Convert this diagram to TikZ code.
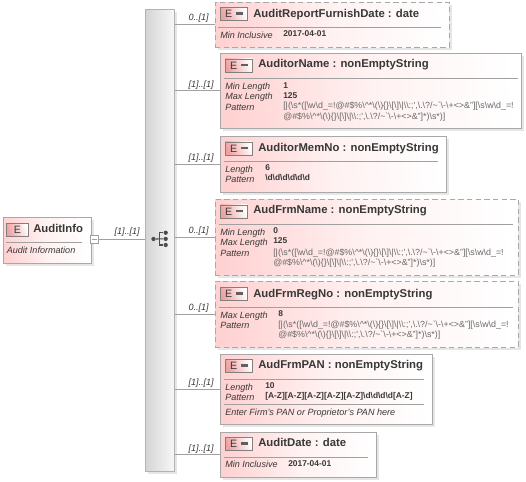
\documentclass[tikz,border=0pt]{standalone}
\usepackage{fontspec}
\setmainfont{Liberation Sans}
\usetikzlibrary{shadows}
\definecolor{boxedge}{HTML}{A8A8A8}
\definecolor{shadowc}{HTML}{E6E6E6}
\definecolor{pinkfill}{HTML}{FFD2D2}
\definecolor{iconpink}{HTML}{F0A0A0}
\definecolor{txt}{HTML}{383838}
\definecolor{pattxt}{HTML}{686868}
\definecolor{linec}{HTML}{A0A0A0}
\newcommand{\bs}{\textbackslash}
\newcommand{\patA}{[|(\bs s*([\bs w\bs d\_=!@\#\$\%\bs\^{}*\bs(\bs)\{\}\bs[\bs]\bs|\bs\bs:;\textquotesingle,\bs.\bs?/\textasciitilde\textasciigrave\bs-\bs+<>\&"][\bs s\bs w\bs d\_=!}
\newcommand{\patB}{@\#\$\%\bs\^{}*\bs(\bs)\{\}\bs[\bs]\bs|\bs\bs:;\textquotesingle,\bs.\bs?/\textasciitilde\textasciigrave\bs-\bs+<>\&"]*)\bs s*)]}
\newcommand{\emark}{E\hspace{3pt}\textcolor{txt!80}{\rule[2.2pt]{5pt}{1.7pt}}}
\tikzset{
  elembox/.style={rectangle,anchor=north west,draw=boxedge,line width=0.75pt,inner sep=0pt,
    top color=pinkfill,bottom color=white,middle color=pinkfill!30,shading angle=94,
    general shadow={shadow xshift=2.2pt,shadow yshift=-2.2pt,fill=shadowc}},
  optbox/.style={elembox,dashed,dash pattern=on 4pt off 2.5pt},
  eicon/.style={rectangle,anchor=north west,draw=black!50,line width=0.6pt,inner sep=0pt,
    minimum width=27*0.75pt,minimum height=13*0.75pt,font=\fontsize{8pt}{8pt}\selectfont,text=txt,
    top color=iconpink,bottom color=white,shading angle=110},
  titletext/.style={anchor=base west,inner sep=0pt,font=\fontsize{8.5pt}{9pt}\selectfont\bfseries,text=txt},
  lbl/.style={anchor=base west,inner sep=0pt,font=\fontsize{6.8pt}{8pt}\selectfont\itshape,text=txt},
  val/.style={anchor=base west,inner sep=0pt,font=\fontsize{6.3pt}{7pt}\selectfont\bfseries,text=txt},
  pat/.style={anchor=base west,inner sep=0pt,font=\fontsize{6.65pt}{7pt}\selectfont,text=pattxt},
  card/.style={anchor=base east,inner sep=0pt,font=\fontsize{6.8pt}{8pt}\selectfont\itshape,text=txt},
  sepline/.style={draw=linec,line width=0.7pt},
  conn/.style={draw=linec,line width=0.7pt},
  dot/.style={circle,fill=black!70,inner sep=0pt,minimum size=3.2pt},
  iconline/.style={draw=black!70,line width=0.8pt},
  collapse/.style={rectangle,draw=linec,fill=white,line width=0.6pt,inner sep=0pt,minimum width=6pt,minimum height=6pt},
  barbox/.style={rectangle,anchor=north west,draw=black!30,line width=0.8pt,inner sep=0pt,
    left color=black!17,right color=black!3,
    general shadow={shadow xshift=2.2pt,shadow yshift=-2.2pt,fill=shadowc}}
}
\newcommand{\elem}[6]{% id, style, x, y, w, h
  \node[#2,minimum width=#5*0.75pt,minimum height=#6*0.75pt] (#1) at (#3,#4) {};
}
\begin{document}
\begin{tikzpicture}[x=0.75pt,y=-0.75pt]
\useasboundingbox (0,0) rectangle (526,482);

% sequence bar
\node[barbox,minimum width=29*0.75pt,minimum height=462*0.75pt] (bar) at (144.5,8.5) {};
\node[dot] (d0) at (153.5,239) {};
\node[dot] (d1) at (165.7,232.7) {};
\node[dot] (d2) at (165.7,238.9) {};
\node[dot] (d3) at (165.7,245) {};
\coordinate (fork) at (159.3,239);
\draw[iconline] (d0) -- (d2);
\draw[iconline] (d1) -| (fork |- d3) -- (d3);

% root element
\elem{root}{elembox}{2.5}{216.5}{88}{46}
\node[eicon,minimum width=22*0.75pt] (rooticon) at (6,223) {E};
\node[titletext] (roott) at (33,232) {AuditInfo};
\draw[sepline] (6,242.5) -- (82,242.5);
\node[lbl] (rootd) at (6.5,253) {Audit Information};
\node[collapse] (rootc) at (94.5,239) {};
\draw[draw=linec,line width=0.6pt] (92.3,239) -- (96.7,239);
\draw[conn] (rootc) -- (bar.west |- rootc);
\node[card] (rootm) at (140,234) {[1]..[1]};

% AuditReportFurnishDate
\elem{a}{optbox}{214.5}{1.5}{234}{45}
\node[eicon] (ai) at (220,7) {\emark};
\node[titletext] (at) at (253,17) {AuditReportFurnishDate : date};
\draw[sepline] (218,27.5) -- (441,27.5);
\node[lbl] (al) at (220,38) {Min Inclusive};
\node[val] (av) at (283,36.5) {2017-04-01};
\draw[conn] (bar.east |- a.west) -- (a.west);
\node[card] (am) at (209,20) {0..[1]};

% AuditorName
\elem{b}{elembox}{219.5}{52.5}{301}{75}
\node[eicon] (bi) at (225,58.5) {\emark};
\node[titletext] (bt) at (258,67) {AuditorName : nonEmptyString};
\draw[sepline] (224,78.5) -- (518,78.5);
\node[lbl] (bl1) at (225,89) {Min Length};
\node[val] (bv1) at (283,88) {1};
\node[lbl] (bl2) at (225,99) {Max Length};
\node[val] (bv2) at (283,98) {125};
\node[lbl] (bl3) at (225,110) {Pattern};
\node[pat] (bp1) at (283,108.5) {\patA};
\node[pat] (bp2) at (283,119.5) {\patB};
\draw[conn] (bar.east |- b.west) -- (b.west);
\node[card] (bm) at (214,87) {[1]..[1]};

% AuditorMemNo
\elem{c}{elembox}{219.5}{135.5}{226}{56}
\node[eicon] (ci) at (225,141.5) {\emark};
\node[titletext] (ct) at (258,151) {AuditorMemNo : nonEmptyString};
\draw[sepline] (224,161.5) -- (438,161.5);
\node[lbl] (cl1) at (225,172) {Length};
\node[val] (cv1) at (265,170.5) {6};
\node[lbl] (cl2) at (225,182) {Pattern};
\node[val] (cv2) at (265,180.5) {\bs d\bs d\bs d\bs d\bs d\bs d};
\draw[conn] (bar.east |- c.west) -- (c.west);
\node[card] (cm) at (214,160) {[1]..[1]};

% AudFrmName
\elem{d}{optbox}{214.5}{198.5}{303}{76}
\node[eicon] (di) at (220,204.5) {\emark};
\node[titletext] (dt) at (253,213) {AudFrmName : nonEmptyString};
\draw[sepline] (219,224.5) -- (513,224.5);
\node[lbl] (dl1) at (220,235) {Min Length};
\node[val] (dv1) at (273,233.5) {0};
\node[lbl] (dl2) at (220,245) {Max Length};
\node[val] (dv2) at (273,243.5) {125};
\node[lbl] (dl3) at (220,256) {Pattern};
\node[pat] (dp1) at (273,255) {\patA};
\node[pat] (dp2) at (273,265.5) {\patB};
\draw[conn] (bar.east |- d.west) -- (d.west);
\node[card] (dm) at (209,233) {0..[1]};

% AudFrmRegNo
\elem{e}{optbox}{214.5}{280.5}{303}{66}
\node[eicon] (ei) at (220,287) {\emark};
\node[titletext] (et) at (253,297) {AudFrmRegNo : nonEmptyString};
\draw[sepline] (219,307.5) -- (513,307.5);
\node[lbl] (el1) at (220,318) {Max Length};
\node[val] (ev1) at (278,316) {8};
\node[lbl] (el2) at (220,328) {Pattern};
\node[pat] (ep1) at (278,327) {\patA};
\node[pat] (ep2) at (278,337.5) {\patB};
\draw[conn] (bar.east |- e.west) -- (e.west);
\node[card] (em) at (209,310) {0..[1]};

% AudFrmPAN
\elem{f}{elembox}{219.5}{353.5}{212}{70}
\node[eicon] (fi) at (225,359) {\emark};
\node[titletext] (ft) at (258,368) {AudFrmPAN : nonEmptyString};
\draw[sepline] (224,379.5) -- (424,379.5);
\node[lbl] (fl1) at (225,390) {Length};
\node[val] (fv1) at (265,388.5) {10};
\node[lbl] (fl2) at (225,400) {Pattern};
\node[val] (fv2) at (265,398.5) {[A-Z][A-Z][A-Z][A-Z][A-Z]\bs d\bs d\bs d\bs d[A-Z]};
\draw[sepline] (224,404.5) -- (424,404.5);
\node[lbl] (fd) at (225,415) {Enter Firm's PAN or Proprietor's PAN here};
\draw[conn] (bar.east |- f.west) -- (f.west);
\node[card] (fm) at (214,385) {[1]..[1]};

% AuditDate
\elem{g}{elembox}{219.5}{431.5}{156}{45}
\node[eicon] (gi) at (225,437) {\emark};
\node[titletext] (gt) at (258,446) {AuditDate : date};
\draw[sepline] (224,457.5) -- (368,457.5);
\node[lbl] (gl) at (225,467) {Min Inclusive};
\node[val] (gv) at (288,466) {2017-04-01};
\draw[conn] (bar.east |- g.west) -- (g.west);
\node[card] (gm) at (214,451) {[1]..[1]};
\end{tikzpicture}
\end{document}
